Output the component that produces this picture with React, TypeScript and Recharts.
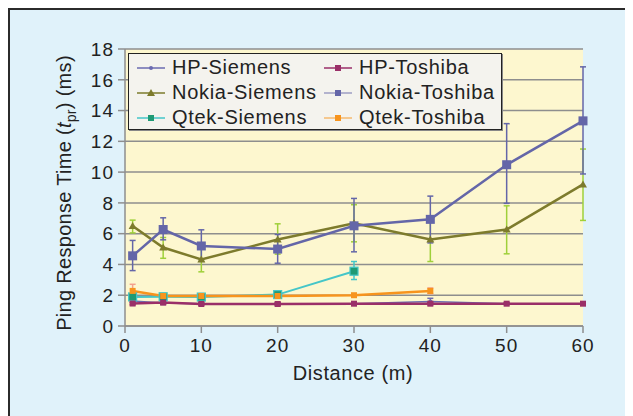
import type { ReactElement } from "react";
import {
  CartesianGrid,
  ErrorBar,
  Label,
  Line,
  LineChart,
  XAxis,
  YAxis,
} from "recharts";

// distances (m)
const distances = [1, 5, 10, 20, 30, 40, 50, 60];
const qtekSiemensDist = [1, 5, 10, 20, 30];
const qtekToshibaDist = [1, 5, 10, 20, 30, 40];

// ping response times (ms) and error bar bounds
const hpSiemens = [1.62, 1.5, 1.45, 1.45, 1.45, 1.6, 1.45, 1.45];
const hpSiemensLow = [1.5, 1.4, 1.38, 1.38, 1.38, 1.45, 1.4, 1.4];
const hpSiemensHigh = [1.75, 1.6, 1.52, 1.52, 1.52, 1.8, 1.5, 1.5];

const hpToshiba = [1.46, 1.52, 1.43, 1.43, 1.45, 1.45, 1.45, 1.45];
const hpToshibaLow = [1.38, 1.42, 1.36, 1.33, 1.38, 1.38, 1.4, 1.4];
const hpToshibaHigh = [1.55, 1.6, 1.5, 1.52, 1.52, 1.52, 1.5, 1.5];

const nokiaSiemens = [6.5, 5.1, 4.32, 5.62, 6.67, 5.62, 6.27, 9.2];
const nokiaSiemensLow = [6.05, 4.4, 3.52, 4.67, 5.47, 4.19, 4.69, 6.86];
const nokiaSiemensHigh = [6.88, 5.75, 5.0, 6.64, 7.88, 7.05, 7.81, 11.5];

const nokiaToshiba = [4.56, 6.27, 5.2, 5.0, 6.51, 6.93, 10.48, 13.33];
const nokiaToshibaLow = [3.6, 5.6, 4.2, 4.08, 4.82, 5.4, 7.97, 9.88];
const nokiaToshibaHigh = [5.56, 7.03, 6.25, 5.95, 8.29, 8.44, 13.15, 16.84];

const qtekSiemens = [1.89, 1.9, 1.88, 2.04, 3.56];
const qtekSiemensLow = [1.78, 1.82, 1.8, 1.95, 3.02];
const qtekSiemensHigh = [2.0, 1.98, 1.96, 2.12, 4.19];

const qtekToshiba = [2.28, 1.95, 1.95, 1.95, 2.0, 2.28];
const qtekToshibaLow = [2.1, 1.9, 1.9, 1.9, 1.95, 2.1];
const qtekToshibaHigh = [2.71, 2.0, 2.0, 2.0, 2.05, 2.47];

const xTicks = [0, 10, 20, 30, 40, 50, 60];
const yTicks = [0, 2, 4, 6, 8, 10, 12, 14, 16, 18];

const series = (xs: number[], ys: number[], lo: number[], hi: number[]) =>
  xs.map((x, i) => ({ x, y: ys[i], err: [ys[i] - lo[i], hi[i] - ys[i]] }));

type Marker = "circle" | "square" | "triangle";

function MarkerShape({
  cx,
  cy,
  kind,
  size,
  fill,
  stroke,
}: {
  cx: number;
  cy: number;
  kind: Marker;
  size: number;
  fill: string;
  stroke?: string;
}) {
  const h = size / 2;
  if (kind === "circle") return <circle cx={cx} cy={cy} r={h} fill={fill} />;
  if (kind === "triangle")
    return (
      <polygon
        points={`${cx},${cy - h - 1} ${cx - h - 1},${cy + h} ${cx + h + 1},${cy + h}`}
        fill={fill}
      />
    );
  return (
    <rect
      x={cx - h}
      y={cy - h}
      width={size}
      height={size}
      fill={fill}
      stroke={stroke}
      strokeWidth={stroke ? 1.2 : 0}
    />
  );
}

type Spec = {
  name: string;
  data: ReturnType<typeof series>;
  color: string;
  width: number;
  marker: Marker;
  size: number;
  markFill: string;
  markStroke?: string;
  errColor: string;
};

const specs: Spec[] = [
  { name: "HP-Siemens", data: series(distances, hpSiemens, hpSiemensLow, hpSiemensHigh), color: "#6b6bb0", width: 1.5, marker: "circle", size: 4, markFill: "#6b6bb0", errColor: "#6b6bb0" },
  { name: "Nokia-Siemens", data: series(distances, nokiaSiemens, nokiaSiemensLow, nokiaSiemensHigh), color: "#7d7b2c", width: 2.5, marker: "triangle", size: 6, markFill: "#7d7b2c", errColor: "#9fd03a" },
  { name: "Nokia-Toshiba", data: series(distances, nokiaToshiba, nokiaToshibaLow, nokiaToshibaHigh), color: "#6466a8", width: 2.5, marker: "square", size: 9, markFill: "#6466a8", errColor: "#6466a8" },
  { name: "Qtek-Siemens", data: series(qtekSiemensDist, qtekSiemens, qtekSiemensLow, qtekSiemensHigh), color: "#45c6c8", width: 2, marker: "square", size: 8, markFill: "#1f9a74", markStroke: "#45c6c8", errColor: "#45c6c8" },
  { name: "Qtek-Toshiba", data: series(qtekToshibaDist, qtekToshiba, qtekToshibaLow, qtekToshibaHigh), color: "#f7941d", width: 2.5, marker: "square", size: 6, markFill: "#f7941d", errColor: "#f4a08c" },
  { name: "HP-Toshiba", data: series(distances, hpToshiba, hpToshibaLow, hpToshibaHigh), color: "#9a2f68", width: 2.5, marker: "square", size: 6, markFill: "#9a2f68", errColor: "#9a2f68" },
];

const legendOrder = ["HP-Siemens", "HP-Toshiba", "Nokia-Siemens", "Nokia-Toshiba", "Qtek-Siemens", "Qtek-Toshiba"];

const font = "'Liberation Sans', Arial, Helvetica, sans-serif";

function LegendBox() {
  return (
    <div
      style={{
        position: "absolute",
        left: 118,
        top: 43,
        background: "#f4f3ee",
        border: "1.5px solid #222",
        boxShadow: "1px 1px 0 #888",
        width: 374,
        height: 77,
        boxSizing: "border-box",
        padding: "1px 0 0 8px",
        display: "grid",
        gridTemplateColumns: "187px 178px",
        gridAutoRows: "25px",
        fontFamily: font,
        fontSize: 20,
        letterSpacing: 0.7,
        color: "#222",
      }}
    >
      {legendOrder.map((n) => {
        const s = specs.find((p) => p.name === n)!;
        return (
          <div key={n} style={{ display: "flex", alignItems: "center" }}>
            <svg width={30} height={12} style={{ marginRight: 5 }}>
              <line x1={0} y1={6} x2={28} y2={6} stroke={s.color} strokeWidth={1.5} opacity={n === "Nokia-Toshiba" || n === "Qtek-Toshiba" ? 0.6 : 1} />
              <MarkerShape cx={14} cy={6} kind={s.marker} size={Math.min(s.size, 6)} fill={s.markFill} />
            </svg>
            <span>{n}</span>
          </div>
        );
      })}
    </div>
  );
}

function YTitle(): ReactElement {
  return (
    <text
      transform="translate(61,183) rotate(-90)"
      textAnchor="middle"
      fontFamily={font}
      fontSize={20}
      fill="#222"
      letterSpacing={0.3}
    >
      <tspan>Ping Response Time (</tspan>
      <tspan fontStyle="italic">t</tspan>
      <tspan fontSize={14} dy={5}>pr</tspan>
      <tspan dy={-5}>) (ms)</tspan>
    </text>
  );
}

function XTitle(): ReactElement {
  return (
    <text x={343} y={370} textAnchor="middle" fontFamily={font} fontSize={20} fill="#222" letterSpacing={0.6}>
      Distance (m)
    </text>
  );
}

const tickStyle = { fill: "#222", fontSize: 19, fontFamily: font, letterSpacing: 1 };

export default function App() {
  return (
    <div
      style={{
        position: "relative",
        width: 617,
        height: 412,
        background: "#e0f2fa",
        border: "2px solid #2b2b2b",
      }}
    >
      <LineChart
        width={617}
        height={410}
        margin={{ top: 39, right: 44, bottom: 34, left: 55 }}
      >
        <CartesianGrid
          vertical={false}
          stroke="#8e8e8e"
          strokeWidth={1.5}
          fill="#fdf7cf"
          fillOpacity={1}
        />
        <XAxis
          type="number"
          dataKey="x"
          domain={[0, 60]}
          ticks={xTicks}
          interval={0}
          allowDuplicatedCategory={false}
          height={60}
          stroke="#8e8e8e"
          strokeWidth={1.5}
          tickSize={7}
          tick={tickStyle}
          tickMargin={6}
        >
          <Label content={XTitle} />
        </XAxis>
        <YAxis
          type="number"
          domain={[0, 18]}
          ticks={yTicks}
          interval={0}
          width={60}
          stroke="#8e8e8e"
          strokeWidth={1.5}
          tickSize={7}
          tick={tickStyle}
          tickMargin={4}
        >
          <Label content={YTitle} />
        </YAxis>
        {specs.map((s) => (
          <Line
            key={s.name}
            name={s.name}
            data={s.data}
            dataKey="y"
            stroke={s.color}
            strokeWidth={s.width}
            isAnimationActive={false}
            dot={(p: any) => (
              <MarkerShape
                key={`${s.name}-${p.index}`}
                cx={p.cx}
                cy={p.cy}
                kind={s.marker}
                size={s.size}
                fill={s.markFill}
                stroke={s.markStroke}
              />
            )}
            activeDot={false}
          >
            <ErrorBar dataKey="err" direction="y" width={3} stroke={s.errColor} strokeWidth={1.5} />
          </Line>
        ))}
      </LineChart>
      <LegendBox />
    </div>
  );
}
